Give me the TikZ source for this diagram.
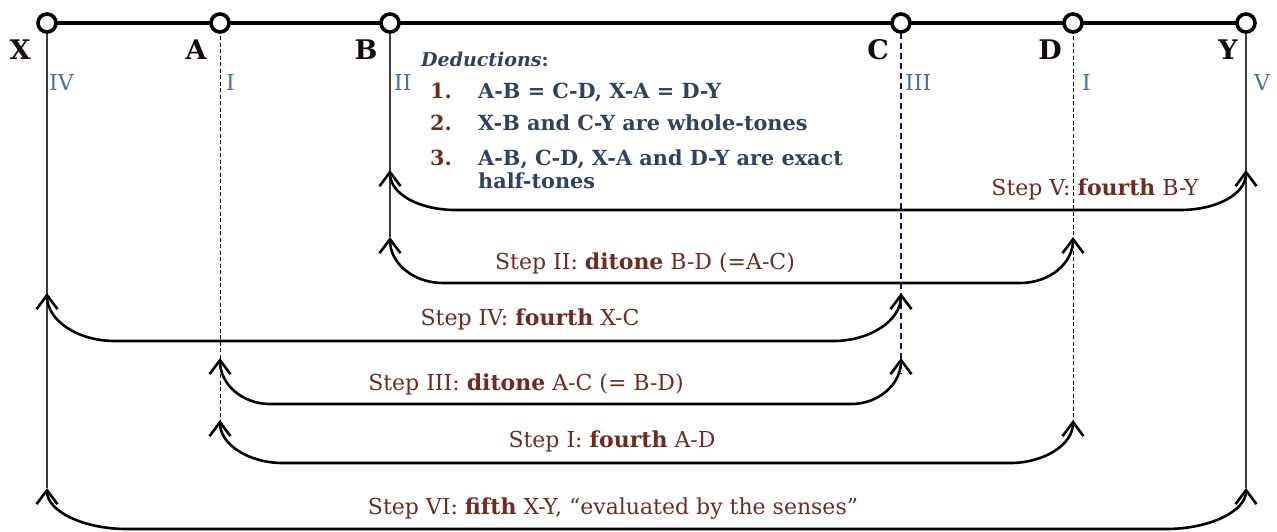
\documentclass[tikz,border=0pt]{standalone}
\usepackage{fontspec}
\setmainfont{DejaVu Serif}
\usetikzlibrary{arrows.meta,calc}
\definecolor{stepbrown}{RGB}{112,42,32}
\definecolor{numblue}{RGB}{72,112,172}
\definecolor{dedblue}{RGB}{48,66,100}
\definecolor{cnavy}{RGB}{10,10,140}
\definecolor{vgray}{RGB}{60,60,60}
\tikzset{
  pt/.style={circle,draw=black,fill=white,line width=3.6pt,minimum size=18pt,inner sep=0pt},
  ptlabel/.style={font=\fontsize{27}{29}\selectfont\bfseries,text=black!90!brown,inner sep=0pt},
  roman/.style={font=\fontsize{22}{24}\selectfont,text=numblue,inner sep=0pt,anchor=west},
  steplabel/.style={font=\fontsize{22}{25}\selectfont,text=stepbrown,inner sep=0pt,anchor=base},
  dedtitle/.style={font=\fontsize{19}{21}\selectfont\bfseries,text=dedblue,inner sep=0pt,anchor=base west},
  dedtext/.style={font=\fontsize{20.8}{23}\selectfont\bfseries,text=dedblue,inner sep=0pt,anchor=base west},
  dednum/.style={font=\fontsize{20.8}{23}\selectfont\bfseries,text=stepbrown,inner sep=0pt,anchor=base west},
  vsolid/.style={draw=vgray,line width=1.1pt},
  vdash/.style={draw=black,line width=0.9pt,dash pattern=on 4pt off 2.5pt},
  vblue/.style={draw=cnavy,line width=1.8pt,dash pattern=on 6pt off 4pt},
  steparc/.style={draw=black,line width=2.6pt,
    {Straight Barb[length=14pt,width=21pt,line width=2.6pt]}-{Straight Barb[length=14pt,width=21pt,line width=2.6pt]}},
}
\begin{document}
\begin{tikzpicture}[x=1pt,y=-1pt]
\useasboundingbox (0,0) rectangle (1277,531);
% arrow tip coordinates
\coordinate (V-l) at (390,170);  \coordinate (V-r) at (1246,170);
\coordinate (II-l) at (390,237); \coordinate (II-r) at (1073,237);
\coordinate (IV-l) at (47,293);  \coordinate (IV-r) at (901,293);
\coordinate (III-l) at (220,358);\coordinate (III-r) at (901,358);
\coordinate (I-l) at (220,420);  \coordinate (I-r) at (1073,420);
\coordinate (VI-l) at (47,488);  \coordinate (VI-r) at (1246,488);
\coordinate (C-end) at (901,374);
% top line
\coordinate (Xc) at (47,23); \coordinate (Ac) at (220,23); \coordinate (Bc) at (390,23);
\coordinate (Cc) at (901,23); \coordinate (Dc) at (1073,23); \coordinate (Yc) at (1246,23);
% vertical lines
\draw[vsolid] (Xc) -- (VI-l);
\draw[vsolid] (Yc) -- (VI-r);
\draw[vsolid] (Bc) -- (II-l);
\draw[vdash] (Ac) -- (I-l);
\draw[vdash] (Dc) -- (I-r);
\draw[vblue] (Cc) -- (C-end);
\draw[line width=4.4pt] (Xc) -- (Yc);
\node[pt] (X) at (Xc) {};
\node[pt] (A) at (Ac) {};
\node[pt] (B) at (Bc) {};
\node[pt] (C) at (Cc) {};
\node[pt] (D) at (Dc) {};
\node[pt] (Y) at (Yc) {};
% point labels
\node[ptlabel] (lX) at (20,50) {X};
\node[ptlabel] (lA) at (196,50) {A};
\node[ptlabel] (lB) at (366,50) {B};
\node[ptlabel] (lC) at (878,50) {C};
\node[ptlabel] (lD) at (1050,50) {D};
\node[ptlabel] (lY) at (1228,50) {Y};
% roman numerals
\node[roman] (rX) at (49,82) {IV};
\node[roman] (rA) at (226,82) {I};
\node[roman] (rB) at (394,82) {II};
\node[roman] (rC) at (905,82) {III};
\node[roman] (rD) at (1082,82) {I};
\node[roman] (rY) at (1254,82) {V};
% deductions
\node[dedtitle] (ded) at (421,66) {\itshape Deductions\upshape:};
\node[dednum] (n1) at (430,98) {1.};
\node[dedtext] (t1) at (478,98) {A-B = C-D, X-A = D-Y};
\node[dednum] (n2) at (430,130) {2.};
\node[dedtext] (t2) at (478,130) {X-B and C-Y are whole-tones};
\node[dednum] (n3) at (430,165) {3.};
\node[dedtext] (t3) at (478,165) {A-B, C-D, X-A and D-Y are exact};
\node[dedtext] (t3b) at (478,188) {half-tones};
% step arcs
\draw[steparc] (V-l) .. controls +(0,24) and +(-37,0) .. (456,210) -- (1180,210) .. controls +(37,0) and +(0,24) .. (V-r);
\draw[steparc] (II-l) .. controls +(0,26) and +(-30,0) .. (443,283) -- (1020,283) .. controls +(30,0) and +(0,26) .. (II-r);
\draw[steparc] (IV-l) .. controls +(0,27) and +(-38,0) .. (115,341) -- (833,341) .. controls +(38,0) and +(0,27) .. (IV-r);
\draw[steparc] (III-l) .. controls +(0,26) and +(-28,0) .. (270,404) -- (851,404) .. controls +(28,0) and +(0,26) .. (III-r);
\draw[steparc] (I-l) .. controls +(0,24) and +(-35,0) .. (283,463) -- (1010,463) .. controls +(35,0) and +(0,24) .. (I-r);
\draw[steparc] (VI-l) .. controls +(0,23) and +(-44,0) .. (127,529) -- (1166,529) .. controls +(44,0) and +(0,23) .. (VI-r);
% step labels
\node[steplabel] (sV) at (1095,195) {Step V: \textbf{fourth} B-Y};
\node[steplabel] (sII) at (645,269) {Step II: \textbf{ditone} B-D (=A-C)};
\node[steplabel] (sIV) at (530,325) {Step IV: \textbf{fourth} X-C};
\node[steplabel] (sIII) at (526,390) {Step III: \textbf{ditone} A-C (= B-D)};
\node[steplabel] (sI) at (612,447) {Step I: \textbf{fourth} A-D};
\node[steplabel] (sVI) at (613,514) {Step VI: \textbf{fifth} X-Y, “evaluated by the senses”};
\end{tikzpicture}
\end{document}
